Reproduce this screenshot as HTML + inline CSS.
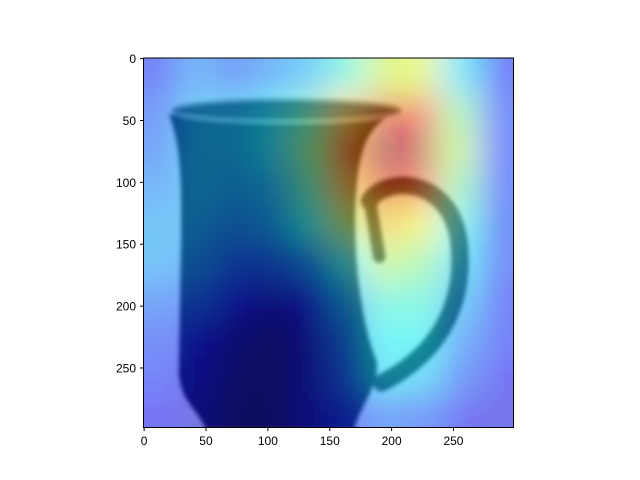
<!DOCTYPE html>
<html><head><meta charset="utf-8"><style>
body{margin:0;background:#fff;}
svg{display:block;font-family:"Liberation Sans","DejaVu Sans",sans-serif;}
</style></head><body>
<svg id="c" width="640" height="480" viewBox="0 0 640 480">
<defs>
<clipPath id="clip"><rect x="143.5" y="58" width="370" height="369.5"/></clipPath>
<filter id="blur" x="-20%" y="-20%" width="140%" height="140%"><feGaussianBlur stdDeviation="15"/></filter>
<filter id="soft"><feGaussianBlur stdDeviation="2"/></filter>
</defs>
<g clip-path="url(#clip)">
<g id="photo"></g>
<g id="heat" opacity="0.5" filter="url(#blur)"></g>
</g>
<rect x="143.5" y="58" width="370" height="369.5" fill="none" stroke="#000" stroke-width="1"/>
<g id="xt"></g>
<g id="yt"></g>
</svg>
<script>
const xTicks=[0,50,100,150,200,250];
const yTicks=[0,50,100,150,200,250];
const heatRows=[
[0.15,0.25,0.2,0.25,0.3,0.42,0.58,0.6,0.35,0.15],
[0.2,0.3,0.3,0.35,0.45,0.68,0.9,0.88,0.5,0.18],
[0.22,0.3,0.3,0.35,0.5,0.78,0.98,0.95,0.55,0.18],
[0.25,0.3,0.28,0.3,0.45,0.7,0.9,0.82,0.48,0.18],
[0.28,0.28,0.25,0.28,0.38,0.55,0.68,0.62,0.4,0.18],
[0.28,0.25,0.2,0.2,0.25,0.38,0.55,0.5,0.35,0.18],
[0.22,0.2,0.12,0.08,0.12,0.28,0.42,0.42,0.3,0.15],
[0.18,0.12,0.06,0.03,0.08,0.22,0.38,0.38,0.25,0.15],
[0.15,0.1,0.04,0.03,0.08,0.2,0.35,0.33,0.2,0.12],
[0.12,0.08,0.03,0.03,0.08,0.15,0.22,0.2,0.12,0.1]];
const NS="http://www.w3.org/2000/svg";
const L=143.5,T=58,S=370/299;
const sx=v=>L+(v+0.5)*S, sy=v=>T+(v+0.5)*S;
function el(t,a,p){const e=document.createElementNS(NS,t);for(const k in a)e.setAttribute(k,a[k]);p.appendChild(e);return e;}
function jet(v){const c=x=>Math.round(255*Math.max(0,Math.min(1,x)));
return `rgb(${c(1.5-Math.abs(4*v-3))},${c(1.5-Math.abs(4*v-2))},${c(1.5-Math.abs(4*v-1))})`;}
const ph=document.getElementById('photo');
const bg=el('rect',{x:100,y:20,width:460,height:450,fill:'#f0f0f2'},ph);


const pg=el('g',{filter:'url(#soft)'},ph);
const P=(x,y)=>sx(x)+','+sy(y);
const body=el('path',{d:`M${P(20,45)} C${P(30,70)} ${P(30,100)} ${P(30,140)} L${P(28,255)} C${P(30,278)} ${P(45,285)} ${P(50,300)} L${P(170,300)} C${P(172,285)} ${P(190,265)} ${P(188,245)} C${P(172,205)} ${P(168,140)} ${P(172,100)} C${P(175,70)} ${P(182,55)} ${P(200,45)} Z`,fill:'#1c1c22'},pg);


const rim=el('ellipse',{cx:sx(115),cy:sy(42),rx:92*S,ry:9*S,fill:'#2a2a30',stroke:'#888',"stroke-width":3},pg);


const handle=el('path',{d:`M${P(182,115)} C${P(195,95)} ${P(245,95)} ${P(254,145)} C${P(260,190)} ${P(245,235)} ${P(192,262)}`,fill:'none',stroke:'#2a2a30',"stroke-width":14*S,"stroke-linecap":"round"},pg);


const hin=el('path',{d:`M${P(183,118)} L${P(190,160)}`,stroke:'#2a2a30',"stroke-width":10*S,"stroke-linecap":"round"},pg);


const hg=document.getElementById('heat');
const nr=heatRows.length;
heatRows.forEach((row,r)=>{const nc=row.length;row.forEach((v,c)=>{
 const cw=300/nc,ch=300/nr;
 let x0=c*cw-0.5,x1=x0+cw,y0=r*ch-0.5,y1=y0+ch;
 if(c===0)x0-=60; if(c===nc-1)x1+=60; if(r===0)y0-=60; if(r===nr-1)y1+=60;
 const rc=el('rect',{x:L+x0*S,y:T+y0*S,width:(x1-x0)*S+0.5,height:(y1-y0)*S+0.5,fill:jet(v)},hg);
 
 
});});
const xg=document.getElementById('xt'),yg=document.getElementById('yt');
xTicks.forEach(t=>{const x=sx(t);
 const ln=el('line',{x1:x,x2:x,y1:427.5,y2:431,stroke:'#000'},xg);
 
 
 const tx=el('text',{x:x,y:445,"font-size":12,"text-anchor":"middle"},xg);tx.textContent=t;
 
 
});
yTicks.forEach(t=>{const y=sy(t);
 const ln=el('line',{x1:140,x2:143.5,y1:y,y2:y,stroke:'#000'},yg);
 
 
 const tx=el('text',{x:136,y:y+4.5,"font-size":12,"text-anchor":"end"},yg);tx.textContent=t;
 
 
});
</script>
</body></html>
